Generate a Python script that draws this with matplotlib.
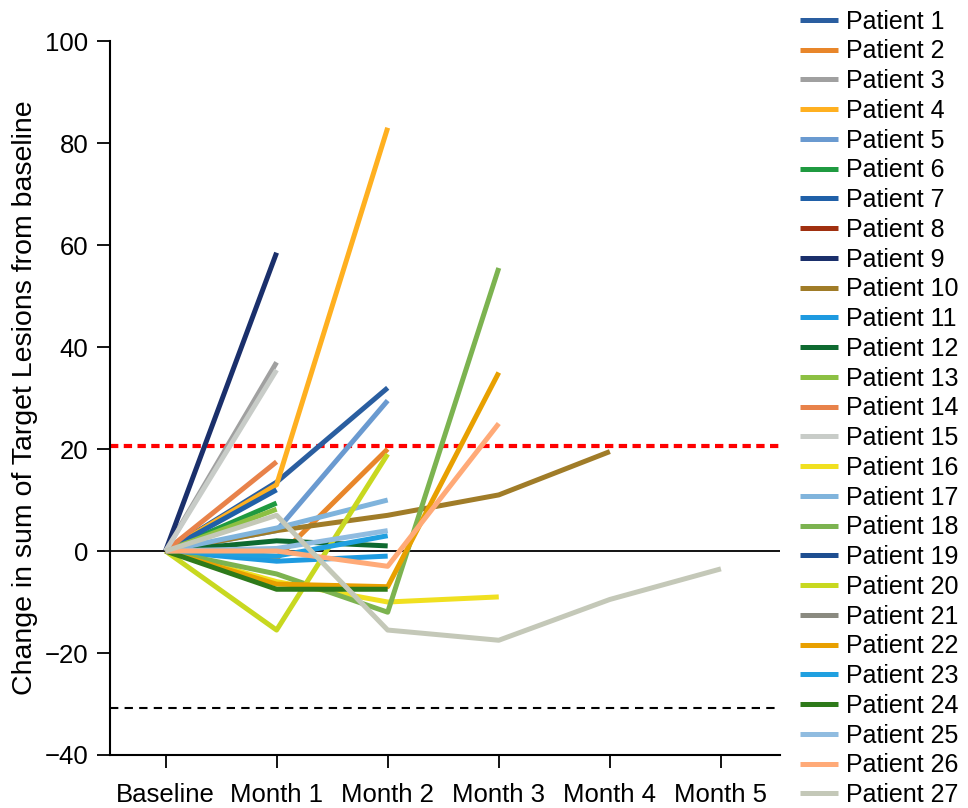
import numpy as np
import matplotlib.pyplot as plt

plt.rcParams['font.family'] = ['Liberation Sans', 'DejaVu Sans']

# time points on the x axis
timepoints = ['Baseline', 'Month 1', 'Month 2', 'Month 3', 'Month 4', 'Month 5']

# % change in sum of target lesions, one list per patient
changes = [
    [0, 13.5, 32],                      # 1
    [0, -1.5, 20],                      # 2
    [0, 37],                            # 3
    [0, 13, 83],                        # 4
    [0, 4, 29.5],                       # 5
    [0, 9.4],                           # 6
    [0, 12],                            # 7
    [0],                                # 8
    [0, 58.5],                          # 9
    [0, 4, 7, 11, 19.5],                # 10
    [0, -2, -1],                        # 11
    [0, 2, 1],                          # 12
    [0, 8.2],                           # 13
    [0, 17.5],                          # 14
    [0, 35.5],                          # 15
    [0, -6, -10, -9],                   # 16
    [0, 4.5, 10],                       # 17
    [0, -4.5, -12, 55.5],               # 18
    [0],                                # 19
    [0, -15.5, 19],                     # 20
    [0],                                # 21
    [0, -6.5, -7, 35],                  # 22
    [0, -1, 3],                         # 23
    [0, -7.5, -7.5],                    # 24
    [0, 0.5, 4],                        # 25
    [0, 0, -3, 25],                     # 26
    [0, 7, -15.5, -17.5, -9.5, -3.5],   # 27
]

colors = ['#2a5ea0', '#e8862a', '#a0a0a0', '#ffb020', '#6a9ad0', '#1f9a40',
          '#2060a8', '#a03010', '#1a2f6b', '#a07c28', '#1e9ae0', '#0e6a30',
          '#8cc043', '#e8824a', '#c8ccc8', '#f0e020', '#80b4dc', '#7cb350',
          '#1e4e90', '#c8d820', '#8a8a80', '#e8a000', '#20a0e0', '#2e7a1a',
          '#90bce0', '#ffaa78', '#c4c8b8']

labels = ['Patient %d' % (i + 1) for i in range(len(changes))]

# reference levels
progression = 20.5
response = -30.7

fig = plt.figure(figsize=(9.68, 8.08), dpi=100)
ax = fig.add_axes([0.1136, 0.0656, 0.692, 0.8836])

ax.axhline(0, color='black', lw=1.3, zorder=1)
ax.axhline(progression, color='#ff0000', lw=3, ls=(0, (2.0, 1.3)), zorder=1)
ax.axhline(response, color='black', lw=1.5, ls=(0, (4, 3)), zorder=1)

for vals, c, lab in zip(changes, colors, labels):
    x = np.arange(len(vals))
    ax.plot(x, vals, color=c, lw=3.6, label=lab, solid_capstyle='butt', zorder=2)

ax.set_xlim(-0.5, 5.53)
ax.set_ylim(-40, 100)
ax.set_yticks(np.arange(-40, 101, 20))
ax.set_xticks(range(len(timepoints)))
ax.set_xticklabels(timepoints)
ax.tick_params(axis='both', labelsize=18.5, length=9.5, width=1.3, direction='out')
ax.tick_params(axis='x', pad=11)
ax.tick_params(axis='y', pad=6)
ax.spines['top'].set_visible(False)
ax.spines['right'].set_visible(False)
ax.spines['left'].set_linewidth(1.5)
ax.spines['bottom'].set_linewidth(1.5)
ax.set_ylabel('Change in sum of Target Lesions from baseline', fontsize=20.5)
ax.yaxis.set_label_coords(-0.108, 0.5)

ax.legend(loc='upper left', bbox_to_anchor=(0.826, 0.988), bbox_transform=fig.transFigure,
          frameon=False, fontsize=18, labelspacing=0.23, handlelength=1.52,
          handletextpad=0.35, borderaxespad=0, borderpad=0)

fig.savefig('out.png', dpi=100)
